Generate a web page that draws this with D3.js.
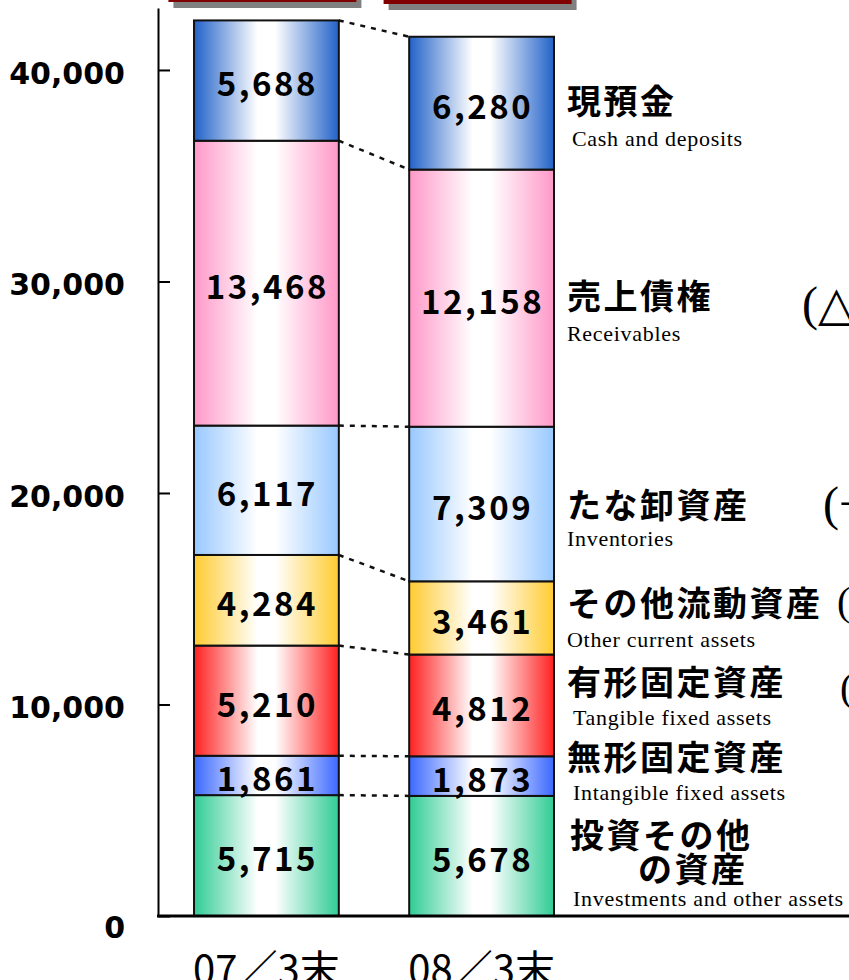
<!DOCTYPE html>
<html>
<head>
<meta charset="utf-8">
<script src="https://cdn.jsdelivr.net/npm/d3@7"></script>
<style>
  body { margin: 0; background: #fff; }
  svg { display: block; }
</style>
</head>
<body>
<div id="chart"></div>
<script>
"use strict";

// periods along x
var periods = ["07／3末", "08／3末"];

// asset items, listed from the bottom of the stack to the top
var itemsJa = [["投資その他", "の資産"], ["無形固定資産"], ["有形固定資産"], ["その他流動資産"], ["たな卸資産"], ["売上債権"], ["現預金"]];
var itemsEn = ["Investments and other assets", "Intangible fixed assets", "Tangible fixed assets",
               "Other current assets", "Inventories", "Receivables", "Cash and deposits"];

// values (million yen)
var values0703 = [5715, 1861, 5210, 4284, 6117, 13468, 5688];
var values0803 = [5678, 1873, 4812, 3461, 7309, 12158, 6280];

// y axis ticks
var yTicks = [0, 10000, 20000, 30000, 40000];

// items that carry a change note at the right edge
var noteItems = ["Receivables", "Inventories", "Other current assets", "Tangible fixed assets"];

var colors = ["#2fcc95", "#3b68ff", "#ff2020", "#ffcb30", "#98c8ff", "#ff98c8", "#2262c8"];

/*
 * layout of the hand placed labels on the right (bottom to top)
 */
var labelLayout = [
  { ja: [[570, 848], [638, 882]], en: [573, 906] },
  { ja: [[567, 770]], en: [573, 800] },
  { ja: [[567, 695]], en: [573, 725] },
  { ja: [[567, 616]], en: [567, 647] },
  { ja: [[567, 518]], en: [567, 546] },
  { ja: [[567, 309]], en: [567, 341] },
  { ja: [[567, 114]], en: [572, 146] }
];
var noteLayout = {
  "Receivables": { x: 802, y: 320, size: 48 },
  "Inventories": { x: 823, y: 520, size: 48 },
  "Other current assets": { x: 837, y: 615, size: 40 },
  "Tangible fixed assets": { x: 840, y: 701, size: 40 }
};

var width = 849, height = 980;

var svg = d3.select("#chart")
  .append("svg")
  .attr("width", width)
  .attr("height", height);

var rows = periods.map(function(p, i) {
  var r = { period: p };
  var vals = i === 0 ? values0703 : values0803;
  itemsEn.forEach(function(k, j) { r[k] = vals[j]; });
  return r;
});

var series = d3.stack().keys(itemsEn)(rows);

var y = d3.scaleLinear()
  .domain([0, 42930])
  .range([916, 8]);

var x = d3.scaleBand()
  .domain(periods)
  .range([194, 554])
  .paddingInner(0.327);

// header boxes (cut off at the top)
var heads = svg.append("g").attr("class", "heads");
periods.forEach(function(p, i) {
  var cx = x(p) + x.bandwidth() / 2 - 4;
  var bottom = i === 0 ? 2 : 4;
  heads.append("rect")
    .attr("x", cx - 94 + 5).attr("y", -40 + 6)
    .attr("width", 188).attr("height", 40 + bottom)
    .attr("fill", "#808080");
  heads.append("rect")
    .attr("x", cx - 94).attr("y", -40)
    .attr("width", 188).attr("height", 40 + bottom)
    .attr("fill", "#800000");
});

// gradients
var defs = svg.append("defs");
itemsEn.forEach(function(k, i) {
  var g = defs.append("linearGradient")
    .attr("id", "grad" + i)
    .attr("x1", 0).attr("x2", 1).attr("y1", 0).attr("y2", 0);
  g.append("stop").attr("offset", 0).attr("stop-color", colors[i]);
  g.append("stop").attr("offset", 0.44).attr("stop-color", "#fff");
  g.append("stop").attr("offset", 0.56).attr("stop-color", "#fff");
  g.append("stop").attr("offset", 1).attr("stop-color", colors[i]);
});

// dotted connectors between the bars
var conn = svg.append("g").attr("class", "connectors");
series.forEach(function(s) {
  conn.append("line")
    .attr("x1", x(periods[0]) + x.bandwidth())
    .attr("y1", y(s[0][1]))
    .attr("x2", x(periods[1]))
    .attr("y2", y(s[1][1]))
    .attr("stroke", "#111")
    .attr("stroke-width", 2.5)
    .attr("stroke-dasharray", "5,6");
});

// stacked segments
var layer = svg.selectAll(".layer")
  .data(series)
  .enter().append("g")
  .attr("class", "layer")
  .attr("fill", function(d, i) { return "url(#grad" + i + ")"; });

layer.selectAll("rect")
  .data(function(d) { return d; })
  .enter().append("rect")
  .attr("x", function(d) { return x(d.data.period); })
  .attr("y", function(d) { return y(d[1]); })
  .attr("width", x.bandwidth())
  .attr("height", function(d) { return y(d[0]) - y(d[1]); })
  .attr("stroke", "#111")
  .attr("stroke-width", 2);

layer.selectAll("text")
  .data(function(d) { return d; })
  .enter().append("text")
  .attr("x", function(d) { return x(d.data.period) + x.bandwidth() / 2 + 1; })
  .attr("y", function(d) { return (y(d[0]) + y(d[1])) / 2 + 4; })
  .attr("dy", "0.36em")
  .attr("text-anchor", "middle")
  .attr("fill", "#000")
  .style("font-family", "'Noto Sans CJK JP', sans-serif")
  .style("font-weight", "bold")
  .style("font-size", "33px")
  .style("letter-spacing", "2.5px")
  .text(function(d) { return d3.format(",")(d[1] - d[0]); });

// y axis
var yAxis = d3.axisLeft(y)
  .tickValues(yTicks)
  .tickSizeInner(-12)
  .tickSizeOuter(0)
  .tickPadding(33)
  .tickFormat(d3.format(","));

var ax = svg.append("g")
  .attr("class", "y axis")
  .attr("transform", "translate(158,0)")
  .call(yAxis);

ax.select(".domain").attr("stroke", "#000").attr("stroke-width", 2);
ax.selectAll(".tick line").attr("stroke", "#000").attr("stroke-width", 2);
ax.selectAll(".tick text")
  .attr("fill", "#000")
  .attr("dy", function(d) { return d === 0 ? "0.72em" : "0.45em"; })
  .style("font-family", "'DejaVu Sans', sans-serif")
  .style("font-weight", "bold")
  .style("font-size", "30px");

// baseline
svg.append("line")
  .attr("x1", 157).attr("x2", width)
  .attr("y1", y(0)).attr("y2", y(0))
  .attr("stroke", "#000")
  .attr("stroke-width", 3);

// x category labels
svg.selectAll(".period")
  .data(periods)
  .enter().append("text")
  .attr("class", "period")
  .attr("x", function(d) { return x(d) + x.bandwidth() / 2; })
  .attr("y", 984)
  .attr("text-anchor", "middle")
  .style("font-family", "'Noto Sans CJK JP', sans-serif")
  .style("font-size", "40px")
  .text(function(d) { return d; });

// item labels on the right
var labels = svg.append("g").attr("class", "labels");
itemsEn.forEach(function(k, i) {
  var lay = labelLayout[i];
  itemsJa[i].forEach(function(line, j) {
    labels.append("text")
      .attr("x", lay.ja[j][0])
      .attr("y", lay.ja[j][1])
      .style("font-family", "'Noto Sans CJK JP', sans-serif")
      .style("font-weight", "bold")
      .style("font-size", "34px")
      .style("letter-spacing", "2.5px")
      .text(line);
  });
  labels.append("text")
    .attr("x", lay.en[0])
    .attr("y", lay.en[1])
    .style("font-family", "'Liberation Serif', 'Times New Roman', serif")
    .style("font-size", "22px")
    .style("letter-spacing", "0.7px")
    .text(k);
});

// change notes (mostly clipped at the right edge)
noteItems.forEach(function(k) {
  var i = itemsEn.indexOf(k);
  var diff = values0803[i] - values0703[i];
  var nl = noteLayout[k];
  labels.append("text")
    .attr("x", nl.x)
    .attr("y", nl.y)
    .style("font-family", "'Liberation Serif', 'Times New Roman', serif")
    .style("font-size", nl.size + "px")
    .text("(" + (diff < 0 ? "△" : "+") + d3.format(",")(Math.abs(diff)) + ")");
});
</script>
</body>
</html>
